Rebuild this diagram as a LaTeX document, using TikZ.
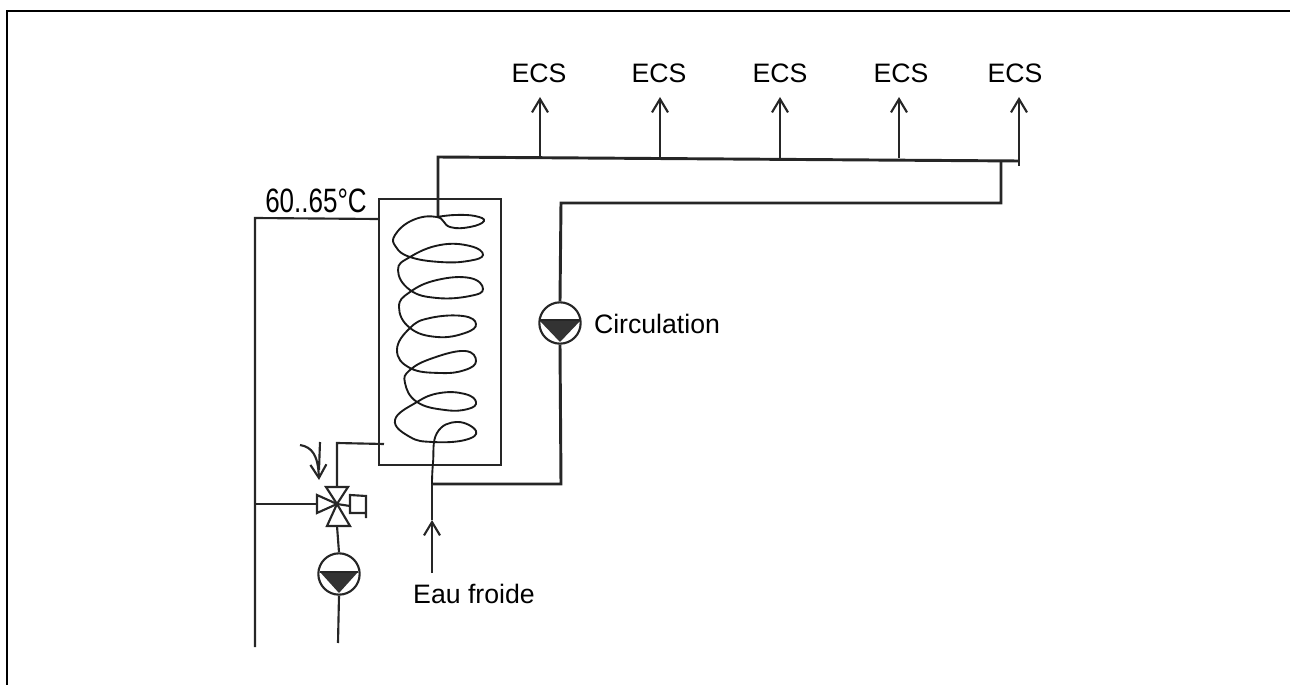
\documentclass[tikz,border=0pt]{standalone}
\usepackage{fontspec}
\setmainfont{Liberation Sans}
\usepackage{tikz}
\usetikzlibrary{arrows.meta, positioning}

\tikzset{
	pipe/.style = {line width=2.2pt, black!85},
	thinpipe/.style = {line width=1.6pt, black!85},
	flow/.style = {thinpipe, -{Straight Barb[length=10pt, width=12pt, line width=1.6pt]}},
	textlabel/.style = {inner sep=0pt, font=\fontsize{20}{24}\selectfont},
}

\begin{document}
\begin{tikzpicture}[x=.75pt, y=-.75pt]
	\useasboundingbox (0,0) rectangle (1290,685);
	\draw [line width=1.6pt] (7,685) -- (7,11) -- (1290,11);

	% hot water line
	\coordinate (top0) at (438,217);
	\coordinate (top1) at (438,157);
	\coordinate (top2) at (1019,161);
	\coordinate (ret0) at (1001,161);
	\coordinate (ret1) at (1001,203);
	\coordinate (ret2) at (561,203);
	\coordinate (ret3) at (561,484);
	\coordinate (ret4) at (433,484);

	\node (p1) [circle, draw, thinpipe, minimum size=31pt, inner sep=0pt] at (560,323) {};
	\node (p2) [circle, draw, thinpipe, minimum size=31pt, inner sep=0pt] at (339,574) {};

	\draw [pipe] (top0) -- (top1) -- (top2);
	\draw [pipe] (ret0) -- (ret1) -- (ret2) -- (p1.north);
	\draw [pipe] (p1.south) -- (ret3) -- (ret4);

	% ECS outlets
	\foreach \name/\xa/\xb in {a/540/539, b/660/659, c/780/780, d/899/901, e/1019/1015} {
		\node (ecs\name) [textlabel] at (\xb,73) {ECS};
		\coordinate (tap\name) at (\xa,158);
		\coordinate (tip\name) at (\xa,97);
		\draw [flow] (tap\name) -- (tip\name);
	}
	\draw [thinpipe] (tape) -- ++(0,8);

	% tank and coil
	\node (tank) [draw, thinpipe, minimum width=91.5pt, minimum height=199.5pt, inner sep=0pt] at (440,332) {};
	\draw [line width=1.4pt, black!90] plot [smooth, tension=.75] coordinates {
		(437,217) (455,215) (475,216) (484,221) (470,227) (450,227) (437,217)
		(413,220) (395,235) (396,247) (410,257) (440,262) (468,261) (483,255)
		(470,246) (440,245) (410,257) (398,270) (410,290) (437,298)
		(470,296) (483,289) (470,278) (437,280) (410,292) (399,307) (410,328)
		(437,337) (465,333) (476,324) (463,316) (430,318) (410,328) (397,350)
		(410,368) (440,373) (465,370) (476,361) (465,351) (433,358) (410,370)
		(405,383) (417,402) (445,410) (468,409) (476,402) (465,394) (440,393)
		(417,402) (395,420) (410,437) (433,442) (465,440) (476,431) (457,422)
		(437,433) (433,463) (432,484)
	};

	% cold water
	\node (cold) [textlabel] at (474,594) {Eau froide};
	\coordinate (in0) at (432,573);
	\coordinate (in1) at (432,520);
	\coordinate (in2) at (432,484);
	\draw [pipe] (in2) -- (in1);
	\draw [flow] (in0) -- (in1);

	\node (circ) [textlabel] at (657,324) {Circulation};

	% pump symbols
	\foreach \p/\yt/\ya/\dx in {p1/320/342/21, p2/572/593/19} {
		\path (\p) ++(-\dx,0) coordinate (\p l) (\p) ++(\dx,0) coordinate (\p r);
		\fill [black!80] (\p l |- 0,\yt) -- (\p r |- 0,\yt) -- (\p |- 0,\ya) -- cycle;
		\draw [thinpipe] (\p l |- 0,\yt) -- (\p r |- 0,\yt);
	}

	% primary loop
	\node (temp) [inner sep=0pt, font=\fontsize{19.5}{22}\selectfont] at (316,201) {\scalebox{1}[1.3]{60..65°C}};
	\coordinate (loop0) at (378,219);
	\coordinate (loop1) at (255,218);
	\coordinate (loop2) at (255,647);
	\draw [thinpipe] (loop0) -- (loop1) -- (loop2);

	% mixing valve
	\coordinate (v) at (337,504);
	\coordinate (tee) at (255,504);
	\coordinate (vl) at (317,504);
	\draw [thinpipe] (tee) -- (vl);
	\draw [thinpipe] (317,495) -- (v) -- (317,513) -- cycle;
	\draw [thinpipe] (326,487) -- (348,487) -- (v) -- cycle;
	\draw [thinpipe] (327,526) -- (350,526) -- (v) -- cycle;
	\draw [thinpipe] (v) -- (350,506);
	\draw [thinpipe] (350,506) -- (350,495) -- (366,496) -- (366,518) (366,513) -- (350,513) -- (350,506);

	\coordinate (hx0) at (384,444);
	\coordinate (hx1) at (337,443);
	\coordinate (hx2) at (337,487);
	\draw [thinpipe] (hx0) -- (hx1) -- (hx2);
	\draw [thinpipe] (337,526) -- (p2.north);
	\draw [thinpipe] (p2.south) -- (338,643);

	\draw [thinpipe] (320,442) -- (319,470);
	\draw [flow] (300,445) .. controls (312,447) and (318,455) .. (319,480);
\end{tikzpicture}
\end{document}
